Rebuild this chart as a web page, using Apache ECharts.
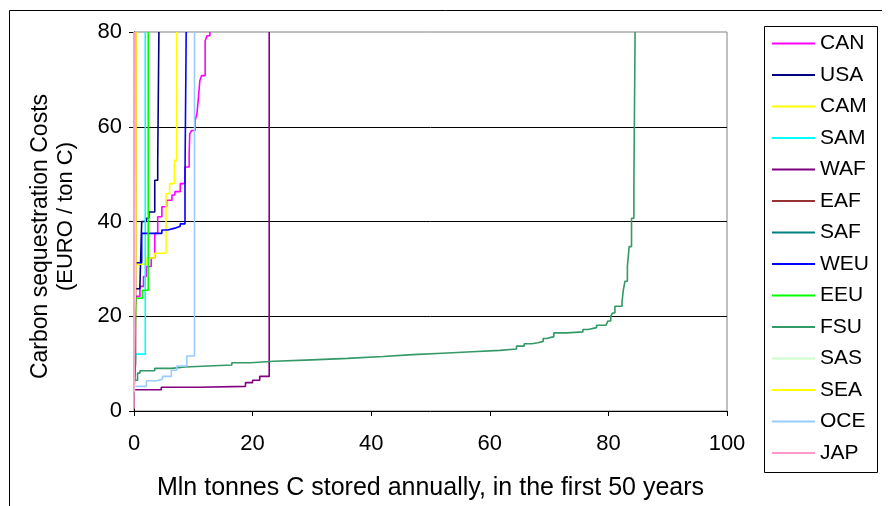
<!DOCTYPE html>
<html>
<head>
<meta charset="utf-8">
<script src="https://cdn.jsdelivr.net/npm/echarts@6/dist/echarts.min.js"></script>
<style>
  html, body { margin: 0; padding: 0; background: #fff; }
  #main { width: 890px; height: 506px; }
</style>
</head>
<body>
<div id="main"></div>
<script>
// regions, in legend order
const regions = ['CAN', 'USA', 'CAM', 'SAM', 'WAF', 'EAF', 'SAF', 'WEU', 'EEU', 'FSU', 'SAS', 'SEA', 'OCE', 'JAP'];
const colors = ['#FF00FF', '#000080', '#FFFF00', '#00FFFF', '#800080', '#993333', '#008080',
                '#0000FF', '#00FF00', '#339966', '#CCFFCC', '#FFFF00', '#99CCFF', '#FF99CC'];

// [cumulative Mln tonnes C, cost EURO / ton C] per step
const CAN = [[0.2, 22], [0.4, 24.2], [1.0, 26.3], [1.6, 28.4], [2.1, 30.5], [2.9, 32.3], [3.5, 37.5], [4.0, 41.0],
             [4.7, 43.1], [5.5, 44.5], [6.4, 45.6], [6.9, 46.3], [7.8, 48.0], [8.6, 51.5], [9.3, 54.3], [9.4, 58.5],
             [9.7, 59.2], [10.3, 61.3], [10.6, 62.7], [10.8, 65.2], [11.1, 69.7], [11.4, 70.8], [12.0, 78.1],
             [12.3, 79.2], [12.8, 80]];
const USA = [[0.3, 25.8], [1.0, 26.5], [1.3, 40.0], [2.1, 40.7], [2.5, 42.0], [3.5, 48.7], [4.0, 52.9], [4.2, 80]];
const CAM = [[0.3, 31.0], [2.1, 32.3], [3.5, 33.3], [5.4, 45.9], [6.0, 48.0], [6.8, 52.9], [7.2, 80]];
const SAM = [[0.05, 5], [0.3, 12.0], [1.9, 80]];
const WAF = [[0.2, 4.5], [4.6, 5.0], [11.0, 5.2], [18.8, 6.0], [20.0, 6.5], [21.2, 7.3], [22.8, 80]];
const EAF = [[0.1, 6.5], [0.25, 10], [0.35, 80]];
const SAF = [[0.02, 3.5], [0.08, 8], [0.1, 80]];
const WEU = [[0.3, 31.3], [1.3, 37.5], [4.7, 38.2], [5.7, 38.6], [6.9, 39.0], [7.8, 39.5], [8.6, 49.8], [8.8, 80]];
const EEU = [[0.05, 6], [0.3, 23.8], [1.4, 25.5], [2.4, 80]];
const FSU = [[0.2, 6.5], [0.6, 8.0], [1.0, 8.5], [3.5, 9.0], [6.3, 9.3], [8.6, 9.7], [16.5, 10.2], [19.7, 10.5],
             [23.6, 10.8], [30, 11.1], [36, 11.5], [42, 11.9], [47, 12.2], [52, 12.5], [57, 12.8], [61.7, 13.1],
             [64.5, 13.7], [65.8, 14.2], [67.1, 14.4], [68.1, 14.7], [69.0, 15.3], [69.6, 15.7], [70.8, 16.5],
             [73.0, 16.7], [75.7, 17.2], [76.6, 17.6], [78.0, 18.1], [79.6, 18.5], [79.9, 19.0], [80.4, 20.0],
             [80.7, 20.7], [81.1, 22.1], [82.3, 23.0], [82.5, 25.4], [82.8, 27.4], [83.2, 30.5], [83.5, 34.7],
             [83.9, 40.7], [84.3, 48.2], [84.5, 80]];
const SAS = [[0.02, 4], [0.06, 80]];
const SEA = [[0.05, 20], [0.2, 24], [0.3, 31], [0.35, 80]];
const OCE = [[0.3, 5.2], [2.1, 6.4], [3.8, 6.7], [4.8, 7.3], [6.3, 8.6], [7.2, 9.5], [8.9, 11.6], [10.2, 80]];
const JAP = [[0, 0.5], [0.03, 80]];

const seriesData = [CAN, USA, CAM, SAM, WAF, EAF, SAF, WEU, EEU, FSU, SAS, SEA, OCE, JAP];

const xTicks = { min: 0, max: 100, interval: 20 };
const yTicks = { min: 0, max: 80, interval: 20 };

const font = 'Liberation Sans, Arial, sans-serif';

var myChart = echarts.init(document.getElementById('main'));

let option = {
  animation: false,
  textStyle: { fontFamily: font },
  grid: {
    left: 134,
    top: 32,
    width: 593,
    height: 380,
    show: true,
    borderColor: '#808080',
    borderWidth: 1
  },
  legend: {
    orient: 'vertical',
    left: 772,
    top: 33,
    padding: 0,
    icon: 'rect',
    itemWidth: 43,
    itemHeight: 2,
    itemGap: 10.5,
    data: regions,
    textStyle: { fontSize: 21, lineHeight: 20, color: '#000', fontFamily: font }
  },
  xAxis: {
    type: 'value',
    min: xTicks.min,
    max: xTicks.max,
    interval: xTicks.interval,
    name: 'Mln tonnes C stored annually, in the first 50 years',
    nameLocation: 'middle',
    nameGap: 65,
    nameTextStyle: { fontSize: 25, color: '#000', fontFamily: font },
    axisLine: { lineStyle: { color: '#000', width: 1 } },
    axisTick: { length: 5, lineStyle: { color: '#000' } },
    axisLabel: { fontSize: 22, color: '#000', margin: 22, fontFamily: font },
    splitLine: { show: false }
  },
  yAxis: {
    type: 'value',
    min: yTicks.min,
    max: yTicks.max,
    interval: yTicks.interval,
    name: '{a|Carbon sequestration Costs}\n{b|(EURO / ton C)}',
    nameLocation: 'middle',
    nameRotate: 90,
    nameGap: 56,
    nameTextStyle: {
      color: '#000',
      fontFamily: font,
      rich: {
        a: { fontSize: 23, lineHeight: 25, color: '#000', fontFamily: font, padding: [0, 30, 0, 0] },
        b: { fontSize: 22, lineHeight: 25, color: '#000', fontFamily: font, padding: [0, 0, 0, 10] }
      }
    },
    axisLine: { show: true, lineStyle: { color: '#000', width: 1 } },
    axisTick: { show: true, length: 5, lineStyle: { color: '#000' } },
    axisLabel: { fontSize: 22, color: '#000', margin: 12, fontFamily: font },
    splitLine: { show: true, showMinLine: false, showMaxLine: false, lineStyle: { color: '#000', width: 1 } }
  },
  graphic: [
    {
      type: 'polyline',
      shape: { points: [[9.5, 506], [9.5, 10.5], [882, 10.5]] },
      style: { stroke: '#000', lineWidth: 1, fill: null }
    },
    {
      type: 'rect',
      shape: { x: 764.5, y: 26.5, width: 113, height: 446 },
      style: { stroke: '#000', lineWidth: 1, fill: null },
      z: -1
    }
  ],
  series: regions.map(function (name, i) {
    return {
      name: name,
      type: 'line',
      step: 'end',
      symbol: 'none',
      color: colors[i],
      lineStyle: { width: 1.6, color: colors[i] },
      data: seriesData[i]
    };
  })
};
myChart.setOption(option);
</script>
</body>
</html>
